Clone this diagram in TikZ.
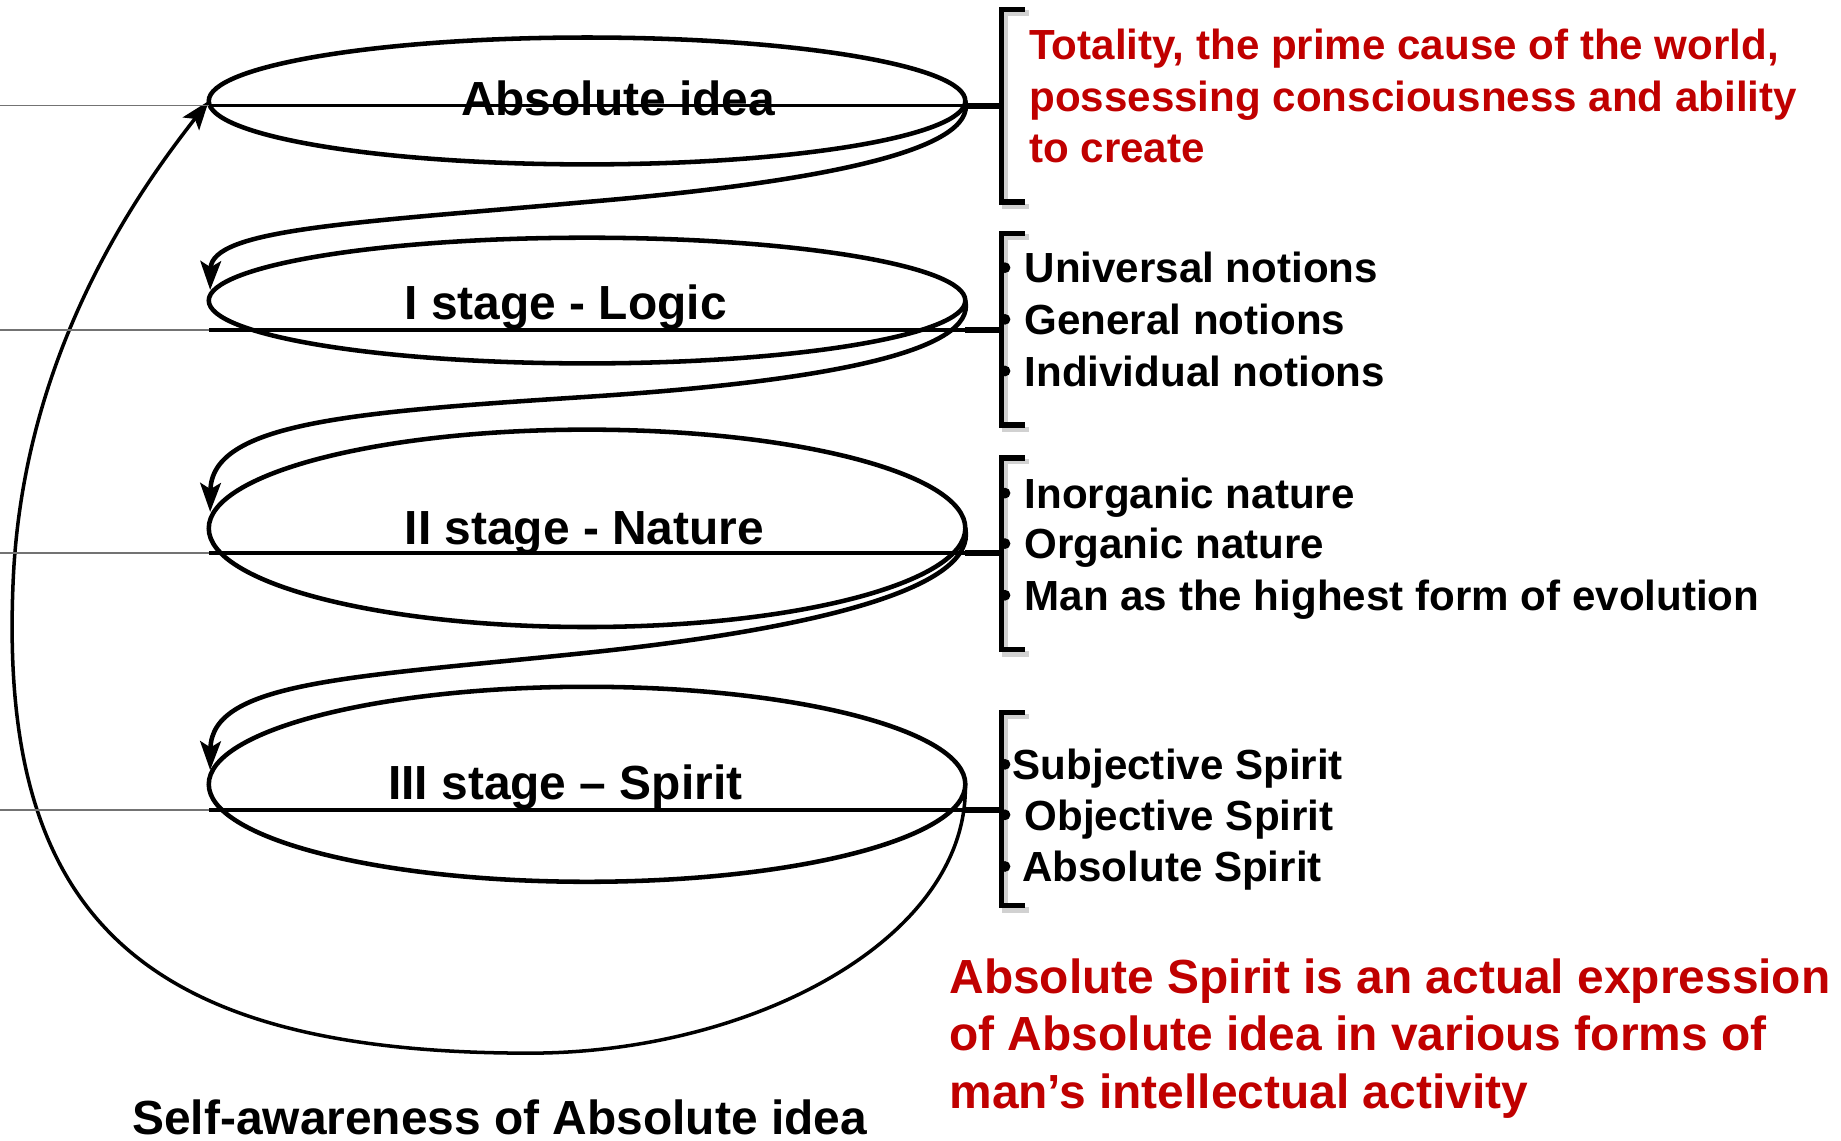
\documentclass[tikz,border=0pt]{standalone}
\usepackage{fontspec}
\setmainfont{Liberation Sans}
\usetikzlibrary{shapes.geometric,arrows.meta}
\definecolor{hred}{RGB}{192,0,0}
\begin{document}
\begin{tikzpicture}[x=0.01cm,y=-0.01cm,
  stage/.style={draw,ellipse,line width=1.1pt,minimum width=6.44cm,inner sep=0pt,outer sep=0pt},
  spiral/.style={line width=1.1pt,-{Stealth[length=7pt,width=5pt,inset=1.5pt]}},
  outer/.style={line width=0.85pt,-{Stealth[length=7pt,width=5pt,inset=1.5pt]}},
  lbl/.style={anchor=base west,inner sep=0pt,font=\fontsize{11.6}{13.9}\selectfont\bfseries},
  item/.style={anchor=base west,inner sep=0pt,font=\fontsize{10.2}{12.3}\selectfont\bfseries},
  redtxt/.style={text=hred},
  thinl/.style={line width=0.4pt,black!55},
  midl/.style={line width=0.8pt},
  thickl/.style={line width=1.4pt},
  brk/.style={line width=1.3pt},
  brkshadow/.style={line width=1.3pt,black!18},
  bullet/.style={fill=black}
]
\useasboundingbox[fill=white] (0,0) rectangle (1568,971);

% stage ellipses
\node[stage,minimum height=1.08cm] (e1) at (500,86) {};
\node[stage,minimum height=1.07cm] (e2) at (500,256) {};
\node[stage,minimum height=1.68cm] (e3) at (500,450) {};
\node[stage,minimum height=1.66cm] (e4) at (500,668) {};

% spiral connectors
\draw[spiral] (e1.east) .. controls (832,128) and (700,155) .. (500,172)
  .. controls (300,190) and (180,195) .. (179,247);
\draw[spiral] (e2.east) .. controls (832,300) and (700,325) .. (500,338)
  .. controls (300,351) and (180,360) .. (179,436);
\draw[spiral] (e3.east) .. controls (832,500) and (700,535) .. (500,556)
  .. controls (300,577) and (180,580) .. (179,656);
\draw[outer] (e4.east) .. controls (825,800) and (640,897) .. (451,897)
  .. controls (120,897) and (0,780) .. (11,500)
  .. controls (18,300) and (120,160) .. (e1.west);

% horizontal lines to brackets
\foreach \y/\n in {90/1,281/2,471/3,690/4}{
  \coordinate (hl\n) at (0,\y);
  \coordinate (hm\n) at (178,\y);
  \coordinate (hr\n) at (822,\y);
  \coordinate (hb\n) at (853,\y);
  \draw[thinl] (hl\n) -- (hm\n);
  \draw[midl] (hm\n) -- (hr\n);
  \draw[thickl] (hr\n) -- (hb\n);
}

% brackets
\foreach \t/\b in {8/172,199/362,390/553,607/771}{
  \draw[brkshadow] (876,\t+3) -- (856,\t+3) -- (856,\b+4) -- (876,\b+4);
  \draw[brk] (873,\t) -- (853,\t) -- (853,\b) -- (873,\b);
}

% bullets
\foreach \y in {228,272,316,420,463,507,651,694,738}{
  \fill[bullet] (856,\y) circle (1.3pt);
}

% stage labels
\node[lbl] (t1) at (392,98) {Absolute idea};
\node[lbl] (t2) at (344,272) {I stage - Logic};
\node[lbl] (t3) at (344,464) {II stage - Nature};
\node[lbl] (t4) at (330,681) {III stage \textendash{} Spirit};
\node[lbl] (t5) at (112,966) {Self-awareness of Absolute idea};

% red description top
\node[item,redtxt] (r1) at (876,51) {Totality, the prime cause of the world,};
\node[item,redtxt] (r2) at (876,95) {possessing consciousness and ability};
\node[item,redtxt] (r3) at (876,138) {to create};

% lists
\node[item] (l1) at (872,241) {Universal notions};
\node[item] (l2) at (872,285) {General notions};
\node[item] (l3) at (872,329) {Individual notions};
\node[item] (n1) at (872,433) {Inorganic nature};
\node[item] (n2) at (872,476) {Organic nature};
\node[item] (n3) at (872,520) {Man as the highest form of evolution};
\node[item] (s1) at (862,664) {Subjective Spirit};
\node[item] (s2) at (872,707) {Objective Spirit};
\node[item] (s3) at (870,751) {Absolute Spirit};

% red description bottom
\node[lbl,redtxt] (q1) at (808,846) {Absolute Spirit is an actual expression};
\node[lbl,redtxt] (q2) at (808,895) {of Absolute idea in various forms of};
\node[lbl,redtxt] (q3) at (808,944) {man’s intellectual activity};
\end{tikzpicture}
\end{document}
